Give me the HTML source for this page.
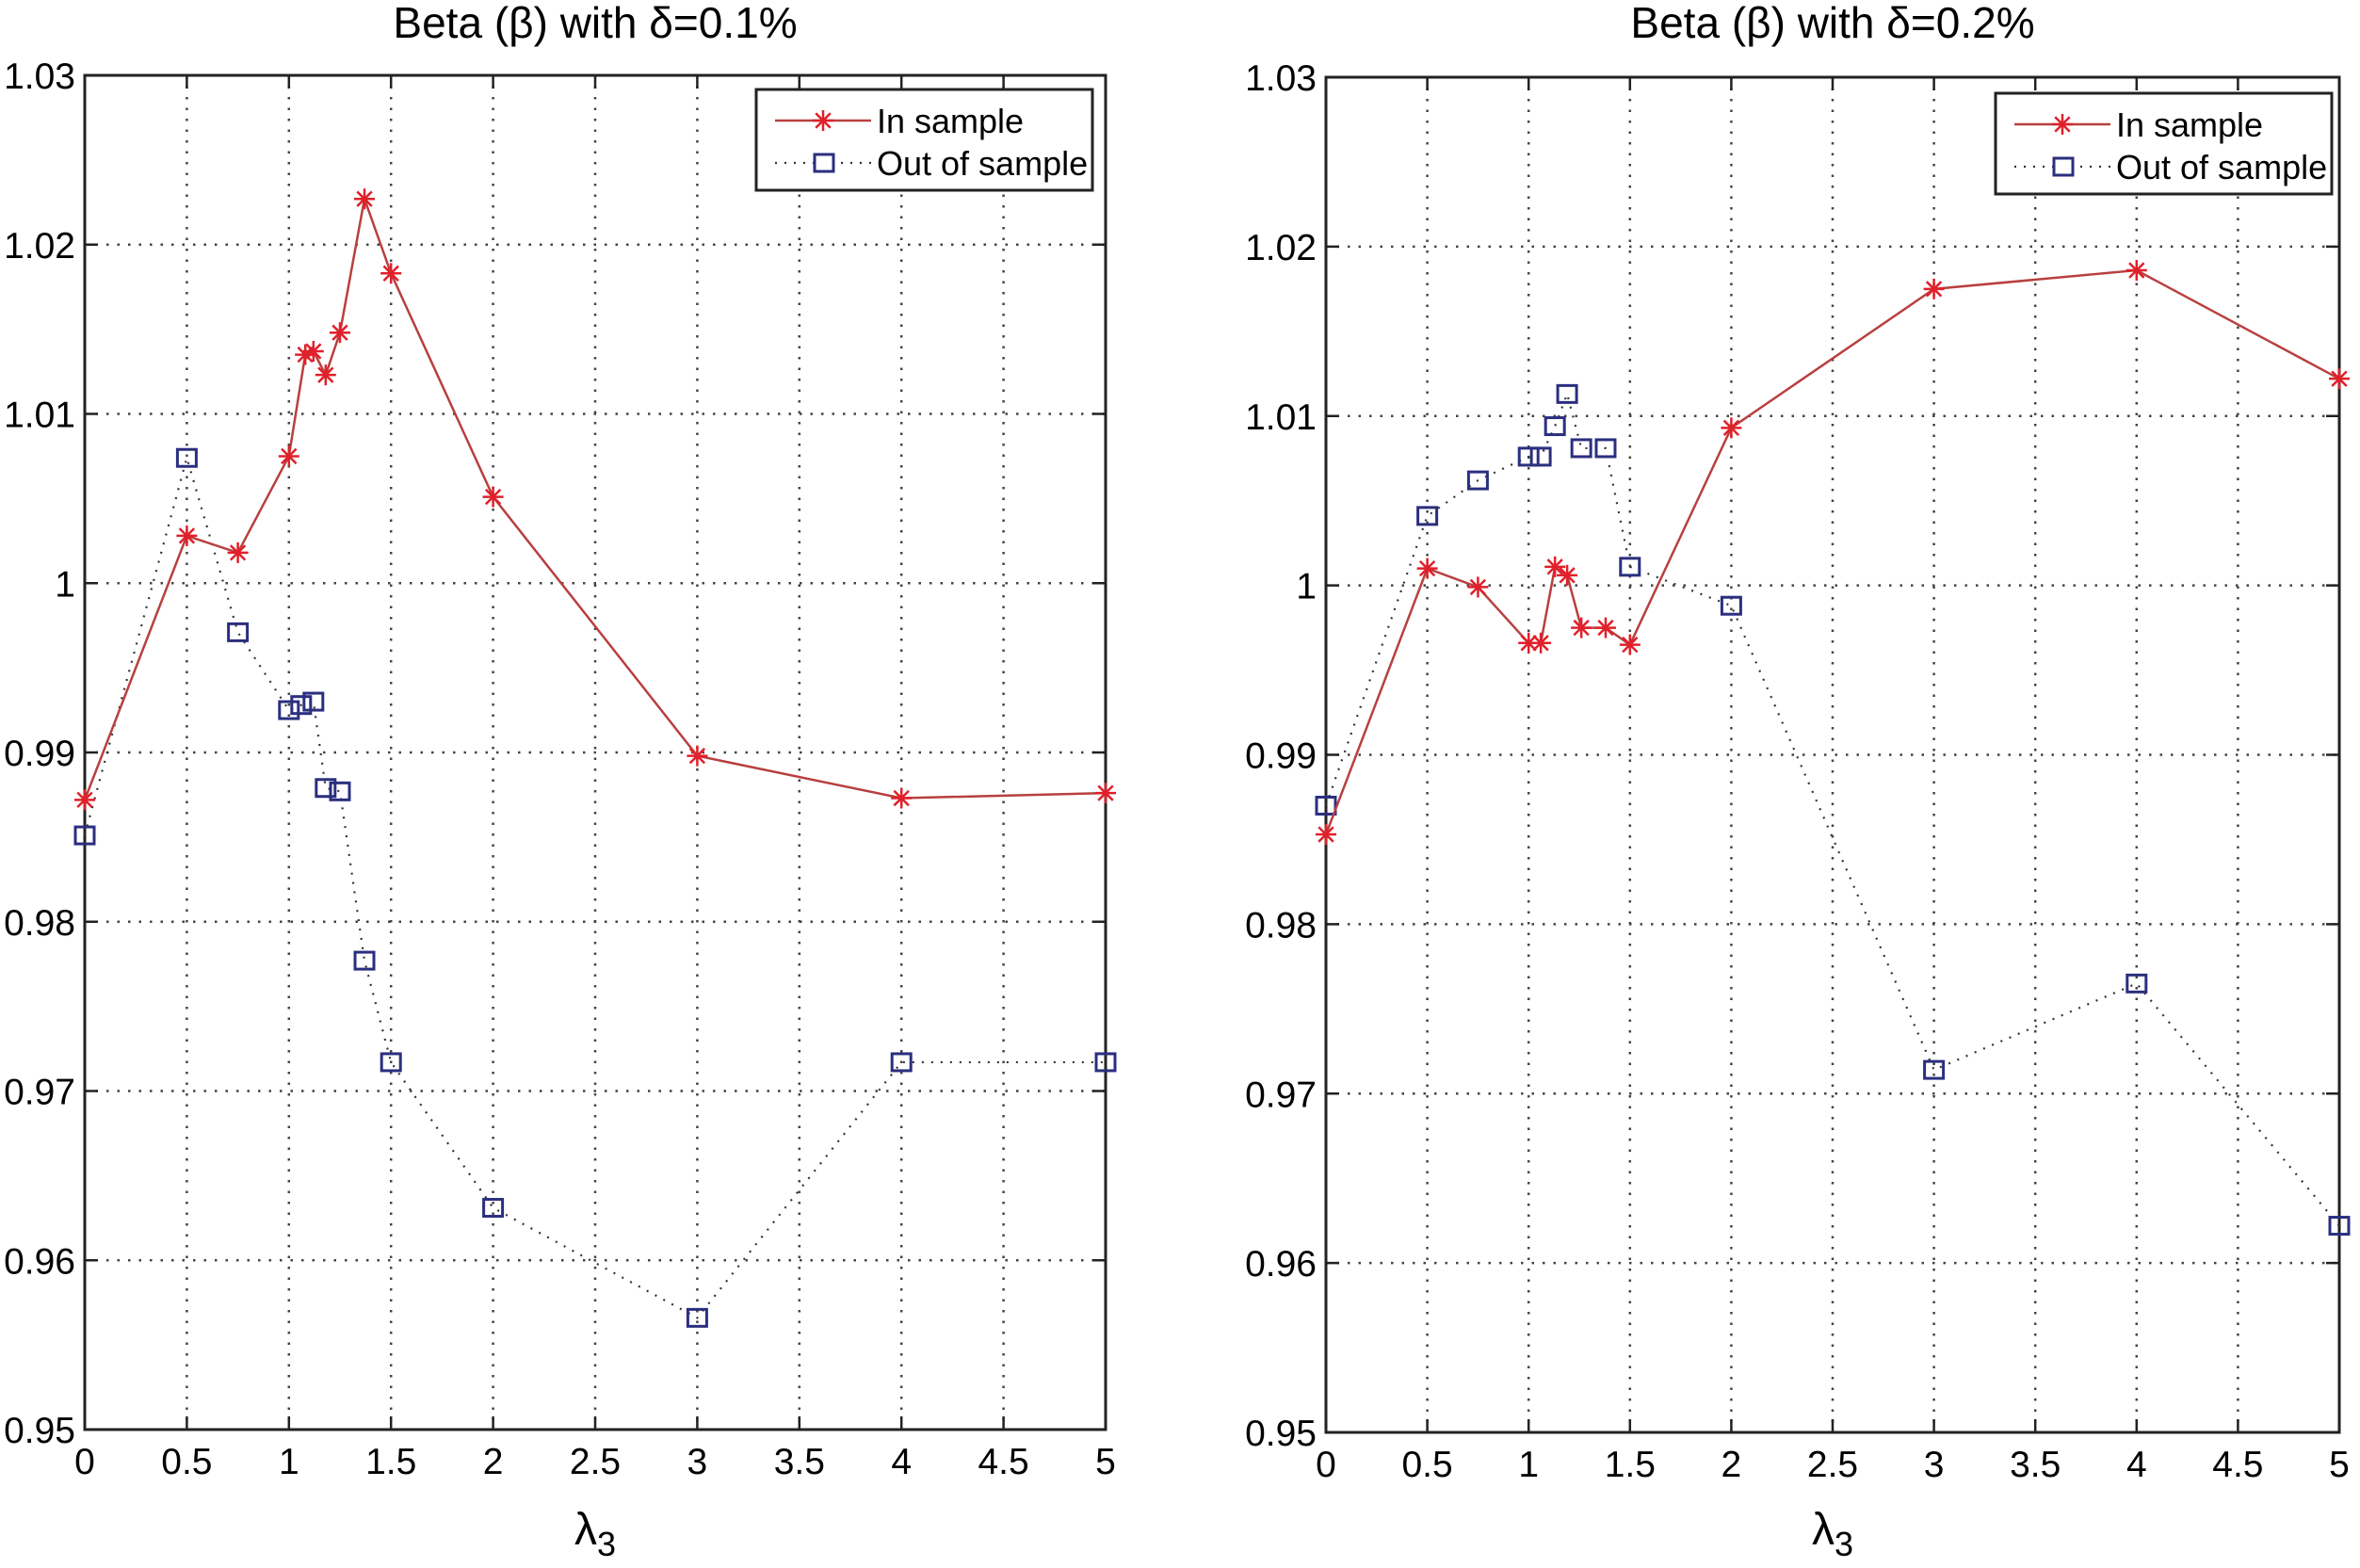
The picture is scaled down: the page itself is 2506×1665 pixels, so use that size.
<!DOCTYPE html>
<html><head><meta charset="utf-8"><style>
html,body{margin:0;padding:0;background:#fff;}
svg{display:block;font-family:"Liberation Sans",sans-serif;}
</style></head><body>
<svg id="chart" width="2506" height="1665" viewBox="0 0 2506 1665"></svg>
<script>
const xTicks=[0,0.5,1,1.5,2,2.5,3,3.5,4,4.5,5];
const xTickLabels=["0","0.5","1","1.5","2","2.5","3","3.5","4","4.5","5"];
const yTicks=[0.95,0.96,0.97,0.98,0.99,1,1.01,1.02,1.03];
const yTickLabels=["0.95","0.96","0.97","0.98","0.99","1","1.01","1.02","1.03"];
const leftInX=[0,0.5,0.75,1,1.08,1.12,1.18,1.25,1.37,1.5,2,3,4,5];
const leftInY=[0.9872,1.0028,1.0018,1.0075,1.0135,1.0137,1.0123,1.0148,1.0227,1.0183,1.0051,0.9898,0.9873,0.9876];
const leftOutX=[0,0.5,0.75,1,1.06,1.12,1.18,1.25,1.37,1.5,2,3,4,5];
const leftOutY=[0.9851,1.0074,0.9971,0.9925,0.9928,0.9930,0.9879,0.9877,0.9777,0.9717,0.9631,0.9566,0.9717,0.9717];
const rightInX=[0,0.5,0.75,1,1.06,1.13,1.19,1.26,1.38,1.5,2,3,4,5];
const rightInY=[0.9853,1.0010,0.9999,0.9966,0.9966,1.0011,1.0006,0.9975,0.9975,0.9965,1.0093,1.0175,1.0186,1.0122];
const rightOutX=[0,0.5,0.75,1,1.06,1.13,1.19,1.26,1.38,1.5,2,3,4,5];
const rightOutY=[0.9870,1.0041,1.0062,1.0076,1.0076,1.0094,1.0113,1.0081,1.0081,1.0011,0.9988,0.9714,0.9765,0.9622];

const NS="http://www.w3.org/2000/svg";
const svg=document.getElementById('chart');
function mk(tag,attrs,parent){const e=document.createElementNS(NS,tag);for(const k in attrs)e.setAttribute(k,attrs[k]);(parent||svg).appendChild(e);return e;}

function panel(cfg){
  const g=mk('g',{});
  
  
  const X=v=>cfg.x0+(v-0)/(5-0)*(cfg.x1-cfg.x0);
  const Y=v=>cfg.yb+(v-0.95)/(0.08)*(cfg.yt-cfg.yb);
  xTicks.forEach((t,i)=>{
    if(i>0&&i<xTicks.length-1){const l=mk('line',{x1:X(t),x2:X(t),y1:cfg.yt,y2:cfg.yb,stroke:'#444','stroke-width':2.5,'stroke-dasharray':'2.5 9'},g);
    }
    mk('line',{x1:X(t),x2:X(t),y1:cfg.yb,y2:cfg.yb-14,stroke:'#222','stroke-width':2.5},g);
    mk('line',{x1:X(t),x2:X(t),y1:cfg.yt,y2:cfg.yt+14,stroke:'#222','stroke-width':2.5},g);
    const tx=mk('text',{x:X(t),y:cfg.yb+47,'font-size':39,'text-anchor':'middle',fill:'#000'},g);
    tx.textContent=xTickLabels[i];
    
  });
  yTicks.forEach((t,i)=>{
    if(i>0&&i<yTicks.length-1){const l=mk('line',{x1:cfg.x0,x2:cfg.x1,y1:Y(t),y2:Y(t),stroke:'#444','stroke-width':2.5,'stroke-dasharray':'2.5 9'},g);
    }
    mk('line',{x1:cfg.x0,x2:cfg.x0+14,y1:Y(t),y2:Y(t),stroke:'#222','stroke-width':2.5},g);
    mk('line',{x1:cfg.x1,x2:cfg.x1-14,y1:Y(t),y2:Y(t),stroke:'#222','stroke-width':2.5},g);
    const tx=mk('text',{x:cfg.x0-10,y:Y(t)+14,'font-size':39,'text-anchor':'end',fill:'#000'},g);
    tx.textContent=yTickLabels[i];
    
  });
  const box=mk('rect',{x:cfg.x0,y:cfg.yt,width:cfg.x1-cfg.x0,height:cfg.yb-cfg.yt,fill:'none',stroke:'#222','stroke-width':3},g);
  
  const po=mk('polyline',{points:cfg.outX.map((v,i)=>X(v)+','+Y(cfg.outY[i])).join(' '),fill:'none',stroke:'#333','stroke-width':2.2,'stroke-dasharray':'2 8'},g);
  
  cfg.outX.forEach((v,i)=>{const r=mk('rect',{x:X(v)-10,y:Y(cfg.outY[i])-9,width:20,height:18,fill:'none',stroke:'#2b2f7f','stroke-width':3},g);
    });
  const pi=mk('polyline',{points:cfg.inX.map((v,i)=>X(v)+','+Y(cfg.inY[i])).join(' '),fill:'none',stroke:'#b8403f','stroke-width':2.5},g);
  
  cfg.inX.forEach((v,i)=>{const s=star(X(v),Y(cfg.inY[i]),g);
    });
  const ti=mk('text',{x:(cfg.x0+cfg.x1)/2,y:40,'font-size':46,'text-anchor':'middle',fill:'#000'},g);
  ti.textContent=cfg.title;
  const xl=mk('text',{x:(cfg.x0+cfg.x1)/2,y:1640,'font-size':48,'text-anchor':'middle',fill:'#000'},g);
  xl.innerHTML='λ<tspan font-size="36" dy="12">3</tspan>';
  
  const L=mk('g',{},g);
  mk('rect',{x:cfg.lx,y:cfg.ly,width:357,height:107,fill:'#fff',stroke:'#222','stroke-width':3},L);
  mk('line',{x1:cfg.lx+20,x2:cfg.lx+122,y1:cfg.ly+33,y2:cfg.ly+33,stroke:'#b8403f','stroke-width':2.5},L);
  star(cfg.lx+71,cfg.ly+33,L);
  const t1=mk('text',{x:cfg.lx+128,y:cfg.ly+46,'font-size':36,fill:'#000'},L);t1.textContent='In sample';
  
  mk('line',{x1:cfg.lx+20,x2:cfg.lx+122,y1:cfg.ly+78,y2:cfg.ly+78,stroke:'#333','stroke-width':2.2,'stroke-dasharray':'2 8'},L);
  mk('rect',{x:cfg.lx+62,y:cfg.ly+69,width:20,height:18,fill:'#fff',stroke:'#2b2f7f','stroke-width':3},L);
  const t2=mk('text',{x:cfg.lx+128,y:cfg.ly+91,'font-size':36,fill:'#000'},L);t2.textContent='Out of sample';
  
}
function star(cx,cy,parent){
  const g=mk('g',{stroke:'#e0202a','stroke-width':2.5},parent);
  for(let a=0;a<4;a++){const ang=a*Math.PI/4;const dx=11*Math.cos(ang),dy=11*Math.sin(ang);
    mk('line',{x1:cx-dx,y1:cy-dy,x2:cx+dx,y2:cy+dy},g);}
  return g;
}
panel({name:'left-panel',title:'Beta (β) with δ=0.1%',x0:90,x1:1174,yt:80,yb:1518,lx:803,ly:95,inX:leftInX,inY:leftInY,outX:leftOutX,outY:leftOutY});
panel({name:'right-panel',title:'Beta (β) with δ=0.2%',x0:1408,x1:2484,yt:82,yb:1521,lx:2119,ly:99,inX:rightInX,inY:rightInY,outX:rightOutX,outY:rightOutY});
</script>
</body></html>
